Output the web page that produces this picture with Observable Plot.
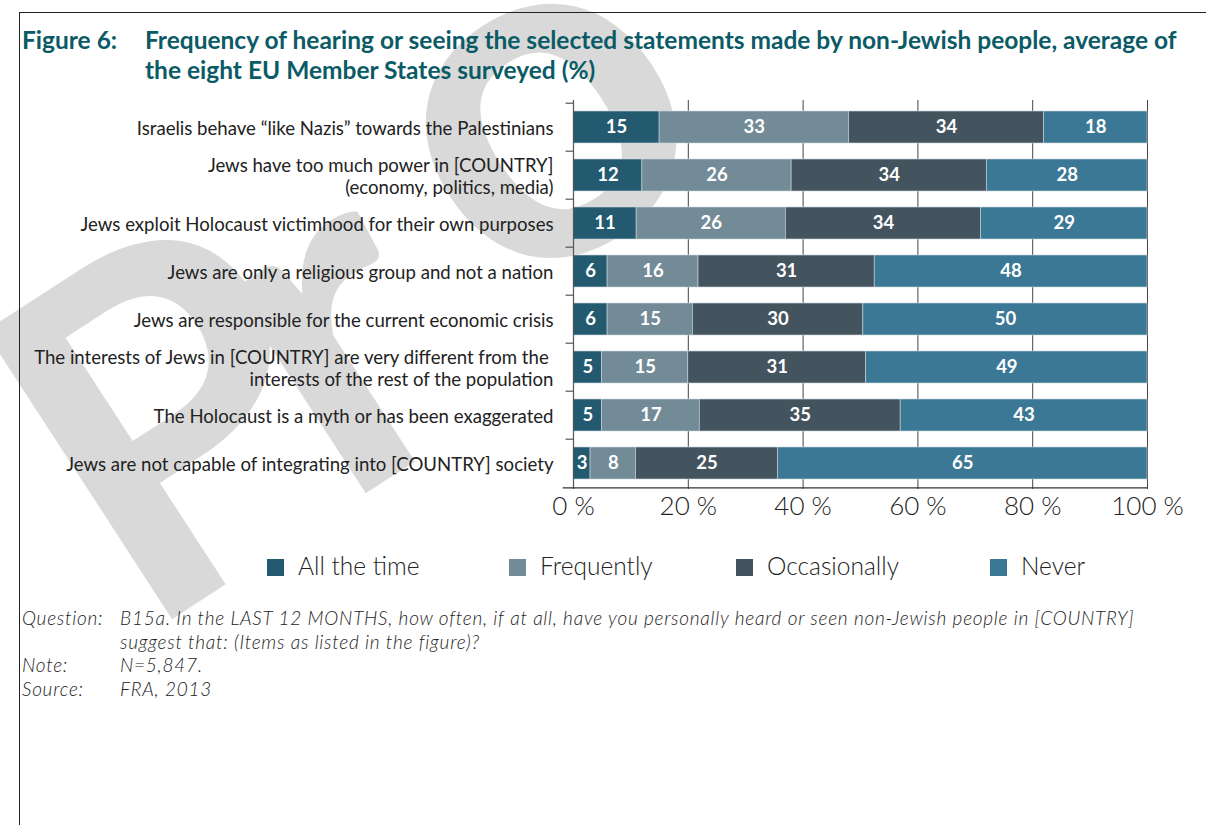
<!DOCTYPE html>
<html><head><meta charset="utf-8">
<script src="https://cdn.jsdelivr.net/npm/d3@7"></script>
<script src="https://cdn.jsdelivr.net/npm/@observablehq/plot@0.6"></script>
<style>
body{margin:0;background:#fff;width:1206px;height:825px;overflow:hidden;position:relative;font-family:Lato,"Open Sans",sans-serif;}
#wm{position:absolute;left:0;top:0;z-index:0;}
#frame{position:absolute;left:19px;top:12px;width:1300px;height:900px;border-left:1px solid #222;border-top:1px solid #222;z-index:1;}
.t{position:absolute;color:#0b5b66;font-weight:700;font-size:24.5px;line-height:30px;z-index:2;white-space:nowrap;}
#chart{position:absolute;left:0;top:90px;z-index:2;}
#legend{position:absolute;top:551px;left:0;width:1206px;height:30px;z-index:2;}
.li{position:absolute;top:0;font-size:24.5px;font-weight:300;color:#222;line-height:30px;}
.sw{position:absolute;top:8px;width:17px;height:17px;}
#notes{position:absolute;left:22px;top:606px;font-family:Lato,sans-serif;font-size:19px;letter-spacing:0.75px;font-style:italic;font-weight:300;color:#222;line-height:23.5px;z-index:2;}
#notes .r{display:flex;}
#notes .k{width:98px;flex:none;}
#notes .v{white-space:nowrap;}
</style></head>
<body>
<svg id="wm" width="1206" height="825"><text x="140" y="640" transform="rotate(-33 140 640)" font-family="Lato, sans-serif" font-weight="700" font-size="475" fill="#d9d9d9">P<tspan dx="-50">r</tspan><tspan dx="75" dy="-81">o</tspan></text></svg>
<div id="frame"></div>
<div class="t" style="left:22px;top:25px;">Figure 6:</div>
<div class="t" style="left:145px;top:25px;">Frequency of hearing or seeing the selected statements made by non-Jewish people, average of<br>the eight EU Member States surveyed (%)</div>
<div id="chart"></div>
<div id="legend"></div>
<div id="notes">
<div class="r"><div class="k">Question:</div><div class="v">B15a. In the LAST 12 MONTHS, how often, if at all, have you personally heard or seen non-Jewish people in [COUNTRY]<br>suggest that: (Items as listed in the figure)?</div></div>
<div class="r"><div class="k">Note:</div><div class="v">N=5,847.</div></div>
<div class="r"><div class="k">Source:</div><div class="v">FRA, 2013</div></div>
</div>
<script>
const items = [
  "Israelis behave \u201clike Nazis\u201d towards the Palestinians",
  "Jews have too much power in [COUNTRY]\n(economy, politics, media)",
  "Jews exploit Holocaust victimhood for their own purposes",
  "Jews are only a religious group and not a nation",
  "Jews are responsible for the current economic crisis",
  "The interests of Jews in [COUNTRY] are very different from the \ninterests of the rest of the population",
  "The Holocaust is a myth or has been exaggerated",
  "Jews are not capable of integrating into [COUNTRY] society"
];
const series = ["All the time", "Frequently", "Occasionally", "Never"];
const allTheTime = [15, 12, 11, 6, 6, 5, 5, 3];
const frequently = [33, 26, 26, 16, 15, 15, 17, 8];
const occasionally = [34, 34, 34, 31, 30, 31, 35, 25];
const never = [18, 28, 29, 48, 50, 49, 43, 65];
const colors = ["#245a70", "#738b97", "#44545f", "#3b7896"];
const xTicks = [0, 0.2, 0.4, 0.6, 0.8, 1];

const valuesBySeries = [allTheTime, frequently, occasionally, never];
const data = [];
items.forEach((item, i) => {
  series.forEach((s, j) => data.push({item, series: s, value: valuesBySeries[j][i]}));
});

const W = 1206, H = 444, mt = 10, mb = 45, ml = 573, mr = 59;
const step = (H - mt - mb) / items.length;

const chart = Plot.plot({
  width: W, height: H,
  marginTop: mt, marginBottom: mb, marginLeft: ml, marginRight: mr,
  style: {background: "transparent", fontFamily: "Lato, sans-serif"},
  x: {domain: [0, 1], label: null},
  y: {domain: items, paddingInner: 0.34, paddingOuter: 0.17, label: null},
  color: {domain: series, range: colors},
  marks: [
    Plot.ruleX(xTicks.slice(1), {stroke: "#444", strokeWidth: 1}),
    Plot.barX(data, Plot.stackX({x: "value", y: "item", fill: "series", z: "series", offset: "normalize", stroke: "#c9d6dc", strokeWidth: 0.6})),
    Plot.text(data, Plot.stackX({x: "value", y: "item", z: "series", offset: "normalize", text: d => String(d.value), fill: "white", fontSize: 18.5, fontWeight: 700})),
    Plot.ruleX([0], {stroke: "#555", strokeWidth: 1.2}),
    Plot.ruleY(items, {y: d => d, dy: -step / 2, x1: -0.013, x2: 0, stroke: "#555", strokeWidth: 1.2}),
    Plot.ruleY(items.slice(-1), {y: d => d, dy: step / 2, x1: -0.018, x2: 1, stroke: "#333", strokeWidth: 1.2}),
    Plot.axisY({tickSize: 0, tickPadding: 20, fontSize: 18.6, fontWeight: 400, lineHeight: 1.18, fill: "#222"}),
    Plot.axisX({ticks: xTicks, tickFormat: d => Math.round(d * 100) + " %", tickSize: 0, tickPadding: 7, fontSize: 26, fontWeight: 300, fill: "#222"})
  ]
});
document.getElementById("chart").appendChild(chart);

const legendX = [267, 509, 736, 990];
const lg = document.getElementById("legend");
series.forEach((s, i) => {
  const sw = document.createElement("div");
  sw.className = "sw"; sw.style.left = legendX[i] + "px"; sw.style.background = colors[i];
  lg.appendChild(sw);
  const t = document.createElement("div");
  t.className = "li"; t.style.left = (legendX[i] + 31) + "px"; t.textContent = s;
  lg.appendChild(t);
});
</script>
</body></html>
